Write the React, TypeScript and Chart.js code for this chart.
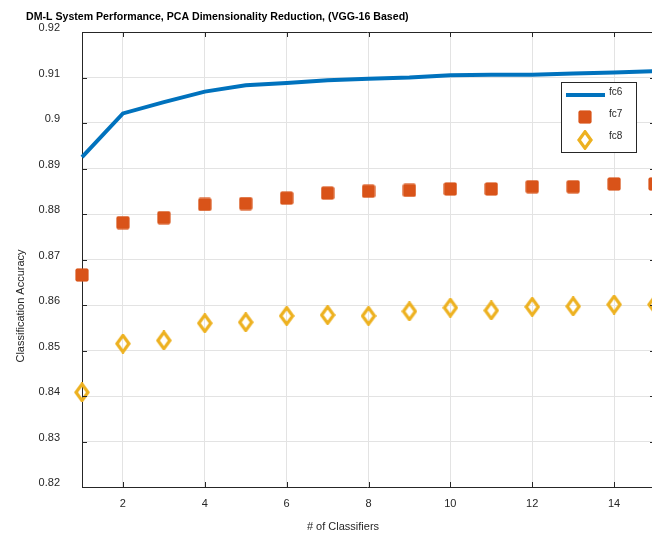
import React, { useEffect, useRef } from "react";
import { Chart, registerables } from "chart.js";

Chart.register(...registerables);

const classifiers = [1, 2, 3, 4, 5, 6, 7, 8, 9, 10, 11, 12, 13, 14, 15];
const fc6 = [0.8925, 0.9021, 0.9046, 0.9069, 0.9083, 0.9088, 0.9094, 0.9097, 0.91, 0.9105, 0.9106, 0.9106, 0.9109, 0.9111, 0.9114];
const fc7 = [0.8666, 0.8781, 0.8792, 0.8821, 0.8823, 0.8835, 0.8846, 0.885, 0.8852, 0.8855, 0.8855, 0.886, 0.886, 0.8866, 0.8866];
const fc8 = [0.8408, 0.8515, 0.8522, 0.856, 0.8562, 0.8576, 0.8578, 0.8576, 0.8586, 0.8594, 0.8588, 0.8596, 0.8597, 0.8601, 0.8601];
const xTicks = [2, 4, 6, 8, 10, 12, 14];
const yTicks = [0.82, 0.83, 0.84, 0.85, 0.86, 0.87, 0.88, 0.89, 0.9, 0.91, 0.92];
const seriesNames = ["fc6", "fc7", "fc8"];
const titleText = "DM-L System Performance, PCA Dimensionality Reduction, (VGG-16 Based)";
const xTitle = "# of Classifiers";
const yTitle = "Classification Accuracy";

const BLUE = "#0072BD";
const ORANGE = "#D95319";
const YELLOW = "#EDB120";
const AXIS = "#262626";
const FONT = '"Liberation Sans", Arial, sans-serif';
const PLOT_RIGHT = 655;

function makeDiamond(): HTMLCanvasElement {
  const c = document.createElement("canvas");
  c.width = 16;
  c.height = 20;
  const g = c.getContext("2d")!;
  g.strokeStyle = YELLOW;
  g.lineWidth = 3.2;
  g.lineJoin = "miter";
  g.beginPath();
  g.moveTo(8, 1.8);
  g.lineTo(14, 10);
  g.lineTo(8, 18.2);
  g.lineTo(2, 10);
  g.closePath();
  g.stroke();
  return c;
}

function makeSquare(): HTMLCanvasElement {
  const c = document.createElement("canvas");
  c.width = 14;
  c.height = 14;
  const g = c.getContext("2d")!;
  g.fillStyle = ORANGE;
  g.fillRect(1, 1, 12, 12);
  g.globalAlpha = 0.6;
  g.fillRect(0, 1.5, 14, 11);
  g.fillRect(1.5, 0, 11, 14);
  return c;
}

export default function App() {
  const ref = useRef<HTMLCanvasElement | null>(null);
  useEffect(() => {
    document.body.style.margin = "0";
    const canvas = ref.current!;
    const diamond = makeDiamond();
    const square = makeSquare();
    const fmt = (v: number) => String(Number(v.toFixed(2)));

    const extendPlugin = {
      id: "extendRight",
      afterLayout(chart: any) {
        const xs = chart.scales.x;
        chart.chartArea.right = PLOT_RIGHT;
        chart.chartArea.width = PLOT_RIGHT - chart.chartArea.left;
        xs.right = PLOT_RIGHT;
        xs.width = PLOT_RIGHT - xs.left;
        xs.configure();
      },
    };

    const framePlugin = {
      id: "frame",
      afterDraw(chart: any) {
        const { ctx, chartArea } = chart;
        const { left, right, top, bottom } = chartArea;
        const xs = chart.scales.x;
        const ys = chart.scales.y;
        ctx.save();
        ctx.strokeStyle = AXIS;
        ctx.lineWidth = 1;
        ctx.beginPath();
        ctx.moveTo(left, top + 0.5);
        ctx.lineTo(right, top + 0.5);
        ctx.moveTo(right - 0.5, top);
        ctx.lineTo(right - 0.5, bottom);
        for (const v of xTicks) {
          const px = Math.round(xs.getPixelForValue(v)) + 0.5;
          ctx.moveTo(px, bottom);
          ctx.lineTo(px, bottom - 5);
          ctx.moveTo(px, top);
          ctx.lineTo(px, top + 5);
        }
        for (const v of yTicks) {
          const py = Math.round(ys.getPixelForValue(v)) + 0.5;
          ctx.moveTo(left, py);
          ctx.lineTo(left + 5, py);
          ctx.moveTo(right, py);
          ctx.lineTo(right - 5, py);
        }
        ctx.stroke();

        // title
        ctx.fillStyle = "#000";
        ctx.font = `bold 10.6px ${FONT}`;
        ctx.textAlign = "left";
        ctx.textBaseline = "alphabetic";
        ctx.fillText(titleText, 26, 19.5);

        // axis titles
        ctx.fillStyle = AXIS;
        ctx.font = `11px ${FONT}`;
        ctx.textAlign = "center";
        ctx.textBaseline = "middle";
        ctx.fillText(xTitle, 343, 527);
        ctx.save();
        ctx.translate(21, 306);
        ctx.rotate(-Math.PI / 2);
        ctx.fillText(yTitle, 0, 0);
        ctx.restore();

        // legend
        const lx = 561, ly = 82, lw = 75, lh = 70;
        ctx.fillStyle = "#fff";
        ctx.fillRect(lx, ly, lw, lh);
        ctx.strokeStyle = AXIS;
        ctx.lineWidth = 1;
        ctx.strokeRect(lx + 0.5, ly + 0.5, lw, lh);
        ctx.strokeStyle = BLUE;
        ctx.lineWidth = 4;
        ctx.beginPath();
        ctx.moveTo(566, 95);
        ctx.lineTo(605, 95);
        ctx.stroke();
        ctx.drawImage(square, 585 - 7, 117 - 7);
        ctx.drawImage(diamond, 585 - 8, 140 - 10);
        ctx.fillStyle = AXIS;
        ctx.font = `10px ${FONT}`;
        ctx.textAlign = "left";
        ctx.textBaseline = "middle";
        ctx.fillText(seriesNames[0], 609, 92);
        ctx.fillText(seriesNames[1], 609, 114);
        ctx.fillText(seriesNames[2], 609, 136);
        ctx.restore();
      },
    };

    const chart = new Chart(canvas, {
      type: "line",
      data: {
        datasets: [
          {
            label: seriesNames[0],
            data: classifiers.map((x, i) => ({ x, y: fc6[i] })),
            borderColor: BLUE,
            borderWidth: 4,
            pointRadius: 0,
            tension: 0,
            clip: false as any,
          },
          {
            label: seriesNames[1],
            data: classifiers.map((x, i) => ({ x, y: fc7[i] })),
            showLine: false,
            pointStyle: square as any,
            pointRadius: 7,
            backgroundColor: ORANGE,
            borderColor: ORANGE,
            clip: false as any,
          },
          {
            label: seriesNames[2],
            data: classifiers.map((x, i) => ({ x, y: fc8[i] })),
            showLine: false,
            pointStyle: diamond as any,
            pointRadius: 10,
            backgroundColor: YELLOW,
            borderColor: YELLOW,
            clip: false as any,
          },
        ],
      },
      options: {
        responsive: false,
        animation: false,
        events: [],
        layout: { autoPadding: false, padding: { top: 32, right: 0, left: 0, bottom: 0 } },
        plugins: { legend: { display: false }, title: { display: false }, tooltip: { enabled: false } },
        scales: {
          x: {
            type: "linear",
            min: 1,
            max: 15,
            afterBuildTicks: (s: any) => {
              s.ticks = xTicks.map((v) => ({ value: v }));
            },
            afterFit: (s: any) => {
              s.height = 49;
              s.paddingLeft = 0;
              s.paddingRight = 0;
            },
            grid: { color: "#e3e3e3", lineWidth: 1, drawTicks: false },
            border: { color: AXIS, width: 1 },
            ticks: {
              color: AXIS,
              padding: 10,
              maxRotation: 0,
              font: { family: FONT, size: 11 },
              callback: (v: any) => String(v),
            },
          },
          y: {
            type: "linear",
            min: 0.82,
            max: 0.92,
            afterBuildTicks: (s: any) => {
              s.ticks = yTicks.map((v) => ({ value: v }));
            },
            afterFit: (s: any) => {
              s.width = 82;
              s.paddingTop = 0;
              s.paddingBottom = 0;
            },
            grid: { color: "#e3e3e3", lineWidth: 1, drawTicks: false },
            border: { color: AXIS, width: 1 },
            ticks: {
              color: AXIS,
              padding: 22,
              labelOffset: -4,
              font: { family: FONT, size: 11 },
              callback: (v: any) => fmt(Number(v)),
            },
          },
        },
      },
      plugins: [extendPlugin, framePlugin],
    });
    return () => chart.destroy();
  }, []);

  return (
    <div style={{ width: 652, height: 536, overflow: "hidden" }}>
      <canvas ref={ref} width={652} height={536} style={{ display: "block", width: 652, height: 536 }} />
    </div>
  );
}
